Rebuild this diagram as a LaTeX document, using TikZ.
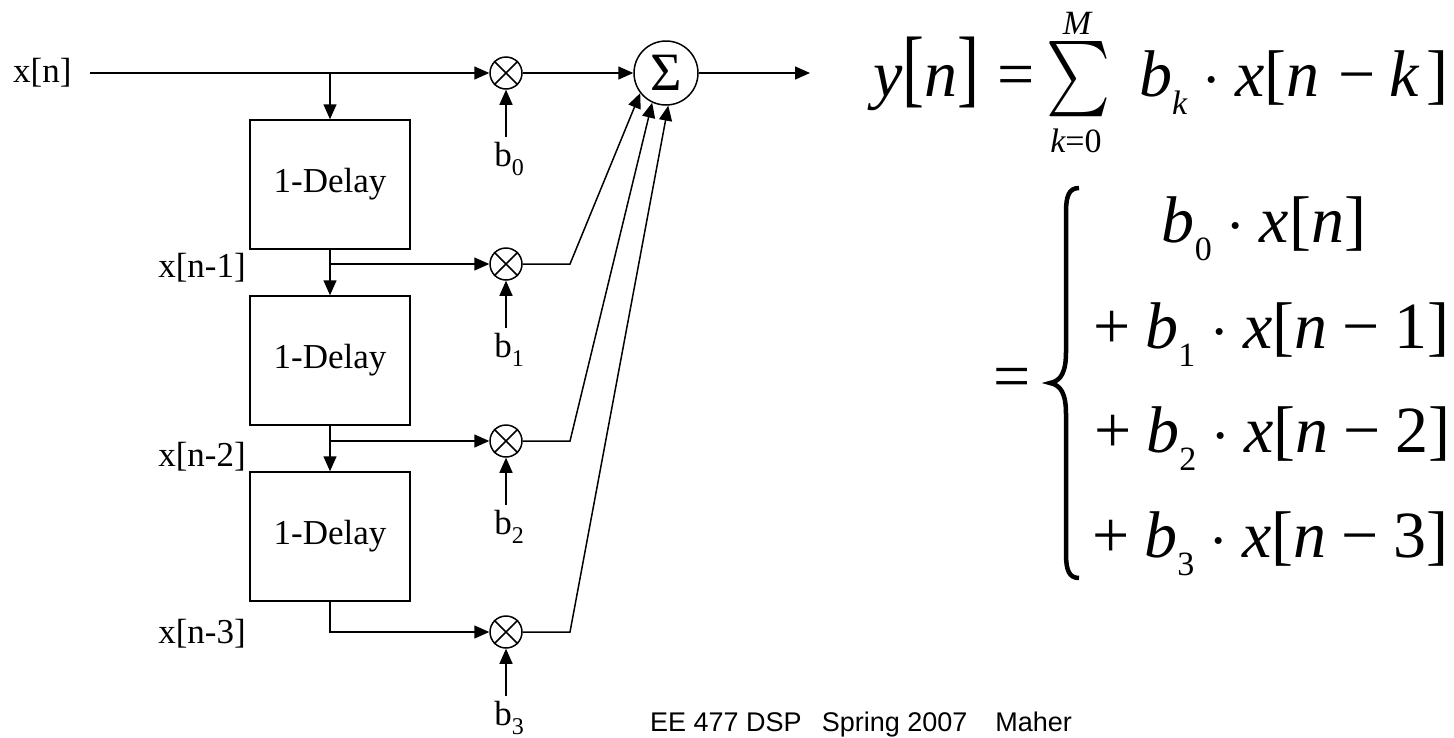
\RequirePackage{fix-cm}
\documentclass[tikz,border=0pt]{standalone}
\usepackage{graphicx}
\usepackage{fontspec}
\setmainfont{Liberation Serif}
\newfontfamily\sansf{Liberation Sans}
\newfontfamily\eqserif{Liberation Serif}[NFSSFamily=tser]
\usetikzlibrary{arrows.meta}
\DeclareFontFamily{OMX}{cmex}{}
\DeclareFontShape{OMX}{cmex}{m}{n}{<-> cmex10}{}
\DeclareSymbolFont{largesymbols}{OMX}{cmex}{m}{n}
\DeclareSymbolFont{tletters}{TU}{tser}{m}{it}
\DeclareSymbolFont{tup}{TU}{tser}{m}{n}
\DeclareMathSizes{66}{66}{34}{26}
\DeclareMathSizes{34}{34}{24}{18}
\AtBeginDocument{%
  \Umathcode`b="7 \symtletters `b
  \Umathcode`k="7 \symtletters `k
  \Umathcode`n="7 \symtletters `n
  \Umathcode`x="7 \symtletters `x
  \Umathcode`y="7 \symtletters `y
  \Umathcode`M="7 \symtletters `M
  \Umathcode`0="7 \symtup `0
  \Umathcode`1="7 \symtup `1
  \Umathcode`2="7 \symtup `2
  \Umathcode`3="7 \symtup `3
  \Umathcode`[="4 \symtup `[
  \Umathcode`]="5 \symtup `]
  \Umathcode`=="3 \symtup `=
  \Umathcode`+="2 \symtup `+
  \Umathcode`-="2 \symtup "2212
}
\newcommand\sbx[1]{_{\raisebox{-9pt}{$\scriptstyle #1$}}}
\newcommand\bbl{\mathopen{\scalebox{1}[1.3]{$[$}}}
\newcommand\bbr{\mathclose{\scalebox{1}[1.3]{$]$}}}
\tikzset{
  ln/.style={line width=1.5pt},
  arr/.style={ln, -{Triangle[length=15pt,width=13pt]}},
  delaybox/.style={draw, line width=1.5pt, minimum width=160pt, minimum height=129pt, inner sep=0pt, font=\fontsize{35}{40}\selectfont},
  mult/.style={draw, circle, line width=1.5pt, minimum size=32pt, inner sep=0pt},
  sumnode/.style={draw, circle, line width=1.5pt, minimum size=64pt, inner sep=0pt, font=\fontsize{54}{60}\selectfont},
  lbl/.style={inner sep=0pt, font=\fontsize{35}{40}\selectfont},
  eq/.style={inner sep=0pt, font=\fontsize{66}{70}\selectfont},
  eqs/.style={inner sep=0pt, font=\fontsize{34}{40}\selectfont},
  bracestroke/.style={line width=4.5pt},
}
\begin{document}
\begin{tikzpicture}[x=1pt,y=-1pt]
\useasboundingbox[fill=white] (0,0) rectangle (1454,737);
% nodes
\node[lbl, anchor=west] (xn) at (13,73) {x[n]};
\node[delaybox] (d1) at (330,184.5) {1-Delay};
\node[delaybox] (d2) at (330,360.5) {1-Delay};
\node[delaybox] (d3) at (330,536.5) {1-Delay};
\node[mult] (m0) at (506,73) {};
\node[mult] (m1) at (506,264) {};
\node[mult] (m2) at (506,441) {};
\node[mult] (m3) at (506,632) {};
\node[sumnode] (sum) at (666,73) {Σ};
\node[lbl, anchor=east] (x1) at (246,268) {x[n-1]};
\node[lbl, anchor=east] (x2) at (246,457) {x[n-2]};
\node[lbl, anchor=east] (x3) at (246,634) {x[n-3]};
\node[lbl, anchor=north] (b0) at (509,142) {b\raisebox{-9pt}{\fontsize{24}{24}\selectfont 0}};
\node[lbl, anchor=north] (b1) at (509,333) {b\raisebox{-9pt}{\fontsize{24}{24}\selectfont 1}};
\node[lbl, anchor=north] (b2) at (509,510) {b\raisebox{-9pt}{\fontsize{24}{24}\selectfont 2}};
\node[lbl, anchor=north] (b3) at (509,701) {b\raisebox{-9pt}{\fontsize{24}{24}\selectfont 3}};
% coordinates
\coordinate (start) at (90,73);
\coordinate (j0) at (330,73);
\coordinate (j1) at (330,264);
\coordinate (j2) at (330,441);
\coordinate (k1) at (570,264);
\coordinate (k2) at (570,441);
\coordinate (k3) at (570,632);
\coordinate (s0) at (506,137);
\coordinate (s1) at (506,328);
\coordinate (s2) at (506,505);
\coordinate (s3) at (506,696);
\coordinate (out) at (810,73);
% crosses
\foreach \m in {m0,m1,m2,m3}{
  \draw[ln] (\m.45) -- (\m.225) (\m.135) -- (\m.315);
}
% connectors
\draw[arr] (start) -- (m0.west);
\draw[arr] (j0) -- (d1.north);
\draw[arr] (d1.south) -- (d2.north);
\draw[arr] (j1) -- (m1.west);
\draw[arr] (d2.south) -- (d3.north);
\draw[arr] (j2) -- (m2.west);
\draw[arr] (d3.south) |- (m3.west);
\draw[arr] (s0) -- (m0.south);
\draw[arr] (s1) -- (m1.south);
\draw[arr] (s2) -- (m2.south);
\draw[arr] (s3) -- (m3.south);
\draw[arr] (m0.east) -- (sum.west);
\draw[arr] (m1.east) -- (k1) -- (sum.218);
\draw[arr] (m2.east) -- (k2) -- (sum.245);
\draw[arr] (m3.east) -- (k3) -- (sum.274);
\draw[arr] (sum.east) -- (out);
% equation, first line
\node[eq, anchor=base west] (eqa) at (873,96) {$y\bbl n\bbr =$};
\node[inner sep=0pt] (bigsig) at (1079,79.5)
  {\fontsize{66}{70}\selectfont\scalebox{0.92}[1.14]{$\textstyle\sum$}};
\node[eqs, anchor=base] (supM) at (1077,34) {$M$};
\node[eqs, anchor=base] (subk) at (1076,152) {$k{=}0$};
\node[eq, anchor=base west] (eqb) at (1139,96) {$b\sbx{k}\cdot x[n\mkern1mu-k\mkern2mu]$};
% equation, second part
\node[eq] (eqc) at (1012,383) {$=$};
\draw[bracestroke] (1079,188) .. controls (1069,188) and (1066,196) .. (1066,212)
  -- (1066,352) .. controls (1066,372) and (1061,381) .. (1050,383)
  .. controls (1061,385) and (1066,394) .. (1066,414)
  -- (1066,554) .. controls (1066,570) and (1069,578) .. (1079,578);
\node[eq, anchor=base] (r0) at (1264,242) {$b\sbx{0}\cdot x[n]$};
\node[eq, anchor=base] (r1) at (1264,348) {${}+b\sbx{1}\cdot x[n-1]$};
\node[eq, anchor=base] (r2) at (1265,452) {${}+b\sbx{2}\cdot x[n-2]$};
\node[eq, anchor=base] (r3) at (1263,557) {${}+b\sbx{3}\cdot x[n-3]$};
% footer
\node[anchor=base west, inner sep=0pt, font=\sansf\fontsize{27}{30}\selectfont] (foot) at (650,731)
  {EE 477 DSP\hspace{20pt}Spring 2007\hspace{28pt}Maher};
\end{tikzpicture}
\end{document}
